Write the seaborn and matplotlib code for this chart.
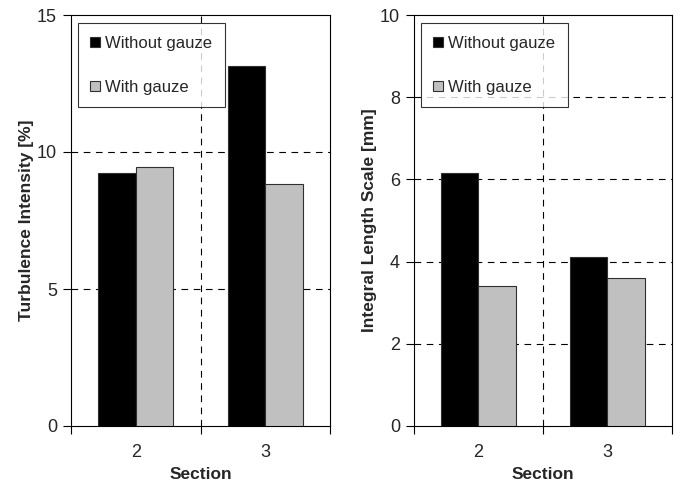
import matplotlib
matplotlib.use("Agg")
import matplotlib.pyplot as plt
import seaborn as sns
import pandas as pd
from matplotlib.ticker import FixedLocator

sections = ["2", "3"]
conditions = ["Without gauze", "With gauze"]
ti_without = [9.25, 13.13]
ti_with = [9.45, 8.82]
ils_without = [6.15, 4.10]
ils_with = [3.41, 3.60]

def make_df(without, with_):
    rows = []
    for s, v in zip(sections, without):
        rows.append({"Section": s, "Condition": conditions[0], "Value": v})
    for s, v in zip(sections, with_):
        rows.append({"Section": s, "Condition": conditions[1], "Value": v})
    return pd.DataFrame(rows)

sns.set_style("white")
plt.rcParams["font.family"] = ["Liberation Sans", "DejaVu Sans"]

fig = plt.figure(figsize=(6.81, 4.83), dpi=100)
W, H = 681, 483
ax1 = fig.add_axes([71 / W, (H - 426) / H, 259 / W, 411 / H])
ax2 = fig.add_axes([414 / W, (H - 426) / H, 258 / W, 411 / H])

palette = ["#000000", "#c0c0c0"]

def draw(ax, df, ylabel, ymax, yticks):
    sns.barplot(data=df, x="Section", y="Value", hue="Condition", hue_order=conditions,
                order=sections, palette=palette, width=0.58, gap=0, ax=ax,
                edgecolor="#303030", linewidth=0.8, saturation=1, errorbar=None, zorder=3)
    ax.set_xlim(-0.5, 1.5)
    ax.set_ylim(0, ymax)
    ax.set_yticks(yticks)
    ax.set_yticklabels([str(t) for t in yticks], fontsize=13)
    for t in yticks[1:-1]:
        ax.axhline(t, color="black", lw=0.8, ls=(0, (6, 5)), zorder=1)
    ax.axvline(0.5, color="black", lw=0.8, ls=(0, (6, 5)), zorder=1)
    ax.set_xticks([0, 1])
    ax.set_xticklabels(sections, fontsize=13)
    ax.xaxis.set_minor_locator(FixedLocator([-0.5, 0.5, 1.5]))
    ax.tick_params(axis="x", which="major", length=0, pad=13)
    ax.tick_params(axis="x", which="minor", length=6, width=0.8, direction="out", color="black", bottom=True)
    ax.tick_params(axis="y", which="major", length=6, width=0.8, direction="out", color="black", left=True, pad=4)
    ax.set_xlabel("Section", fontsize=12.5, fontweight="bold", labelpad=4)
    ax.set_ylabel(ylabel, fontsize=12.5, fontweight="bold", labelpad=2)
    for sp in ax.spines.values():
        sp.set_visible(True)
        sp.set_color("black")
        sp.set_linewidth(0.8)
    leg = ax.legend(loc="upper left", bbox_to_anchor=(0.027, 0.98), frameon=True, fancybox=False,
                    edgecolor="black", fontsize=12, handlelength=0.6, handleheight=0.6,
                    labelspacing=1.75, borderpad=0.75, handletextpad=0.3, borderaxespad=0)
    leg.get_frame().set_linewidth(0.8)
    leg.set_zorder(5)

draw(ax1, make_df(ti_without, ti_with), "Turbulence Intensity [%]", 15, [0, 5, 10, 15])
draw(ax2, make_df(ils_without, ils_with), "Integral Length Scale [mm]", 10, [0, 2, 4, 6, 8, 10])

fig.savefig("out.png", dpi=100)
